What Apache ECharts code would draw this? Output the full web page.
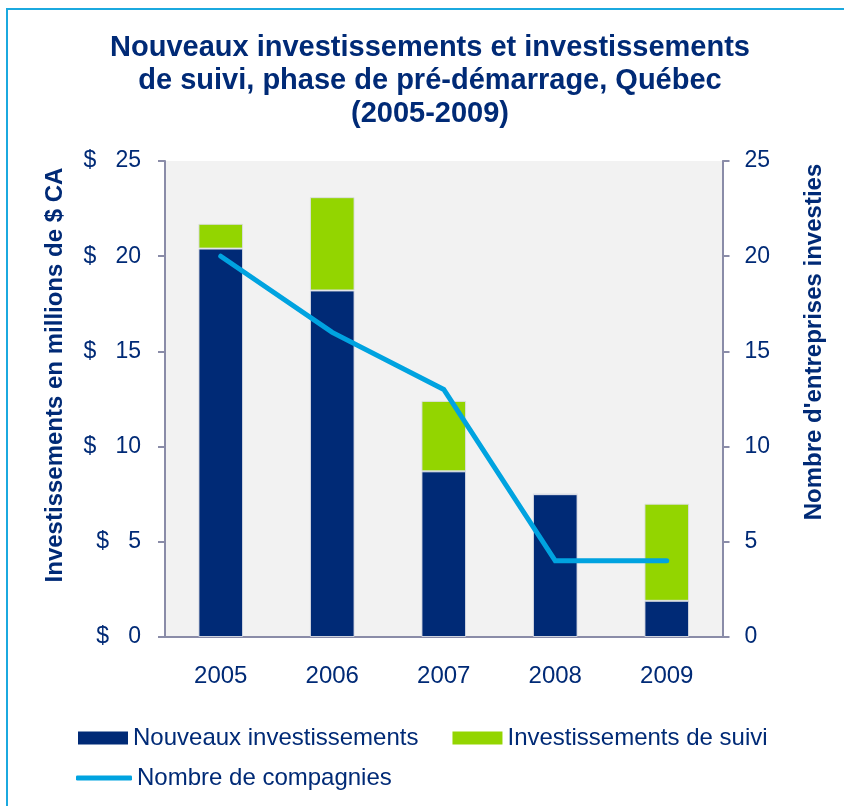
<!DOCTYPE html>
<html>
<head>
<meta charset="utf-8">
<script src="https://cdn.jsdelivr.net/npm/echarts@6/dist/echarts.min.js"></script>
<style>
  * { margin: 0; padding: 0; }
  body { background: #fff; width: 844px; height: 806px; overflow: hidden; position: relative; }
  #frame { position: absolute; left: 6px; top: 8px; width: 900px; height: 900px; border: 2px solid #1ba9df; }
  #main { position: absolute; left: 0; top: 0; width: 844px; height: 806px; }
</style>
</head>
<body>
<div id="frame"></div>
<div id="main"></div>
<script>
// données
var annees = ['2005', '2006', '2007', '2008', '2009'];
var nouveaux = [20.4, 18.2, 8.7, 7.5, 1.9];
var suivi = [1.3, 4.9, 3.7, 0, 5.1];
var compagnies = [20, 16, 13, 4, 4];

var bleu = '#002a76';
var vert = '#93d500';
var cyan = '#00a3e0';
var axe = '#8a8ca8';

var chart = echarts.init(document.getElementById('main'));
chart.setOption({
    backgroundColor: 'transparent',
    textStyle: { fontFamily: 'Liberation Sans, Arial, sans-serif' },
    title: {
        text: 'Nouveaux investissements et investissements\nde suivi, phase de pré-démarrage, Québec\n(2005-2009)',
        left: 430,
        textAlign: 'center',
        top: 26,
        padding: [5, 0, 5, 0],
        textStyle: { color: bleu, fontSize: 29, fontWeight: 'bold', lineHeight: 33 }
    },
    legend: [{
        data: [
            { name: 'Nouveaux investissements', icon: 'rect' },
            { name: 'Investissements de suivi', icon: 'rect' }
        ],
        left: 73,
        top: 721,
        itemWidth: 50,
        itemHeight: 13,
        itemGap: 34,
        itemStyle: { borderWidth: 0 },
        textStyle: { color: bleu, fontSize: 24 }
    }, {
        data: [{ name: 'Nombre de compagnies', icon: 'roundRect' }],
        left: 71,
        top: 761,
        itemWidth: 56,
        itemHeight: 5,
        itemStyle: { color: cyan, borderWidth: 0 },
        textStyle: { color: bleu, fontSize: 24 }
    }],
    grid: { left: 165, right: 121.5, top: 161, bottom: 169, backgroundColor: '#f2f2f2', show: true, borderWidth: 0 },
    xAxis: {
        type: 'category',
        data: annees,
        axisLine: { lineStyle: { color: axe, width: 2 } },
        axisTick: { length: 7, lineStyle: { color: axe, width: 2 } },
        axisLabel: { color: bleu, fontSize: 24, margin: 27 }
    },
    yAxis: [{
        type: 'value',
        min: 0, max: 25, interval: 5,
        name: 'Investissements en millions de $ CA',
        nameLocation: 'middle',
        nameGap: 98,
        nameTextStyle: { color: bleu, fontSize: 24, fontWeight: 'bold', padding: [0, 0, 0, 48] },
        axisLine: { show: true, lineStyle: { color: axe, width: 2 } },
        axisTick: { show: true, length: 7, lineStyle: { color: axe, width: 2 } },
        splitLine: { show: false },
        axisLabel: {
            color: bleu, fontSize: 23, margin: 24,
            formatter: function (v) { return '$   ' + v; }
        }
    }, {
        type: 'value',
        min: 0, max: 25, interval: 5,
        position: 'right',
        name: "Nombre d'entreprises investies",
        nameLocation: 'middle',
        nameGap: 80,
        nameRotate: 90,
        nameTextStyle: { color: bleu, fontSize: 24, fontWeight: 'bold', padding: [0, 0, 0, 114] },
        axisLine: { show: true, lineStyle: { color: axe, width: 2 } },
        axisTick: { show: true, length: 7, lineStyle: { color: axe, width: 2 } },
        splitLine: { show: false },
        axisLabel: { color: bleu, fontSize: 23, margin: 22 }
    }],
    series: [{
        name: 'Nouveaux investissements',
        type: 'bar',
        stack: 'total',
        barWidth: '40%',
        itemStyle: { color: bleu, borderColor: 'rgba(220,222,230,0.9)', borderWidth: 1 },
        data: nouveaux
    }, {
        name: 'Investissements de suivi',
        type: 'bar',
        stack: 'total',
        barWidth: '40%',
        itemStyle: { color: vert, borderColor: 'rgba(220,222,230,0.9)', borderWidth: 1 },
        data: suivi
    }, {
        name: 'Nombre de compagnies',
        type: 'line',
        yAxisIndex: 1,
        symbol: 'none',
        lineStyle: { color: cyan, width: 5, cap: 'round', join: 'miter' },
        itemStyle: { color: cyan },
        data: compagnies
    }]
});
</script>
</body>
</html>
